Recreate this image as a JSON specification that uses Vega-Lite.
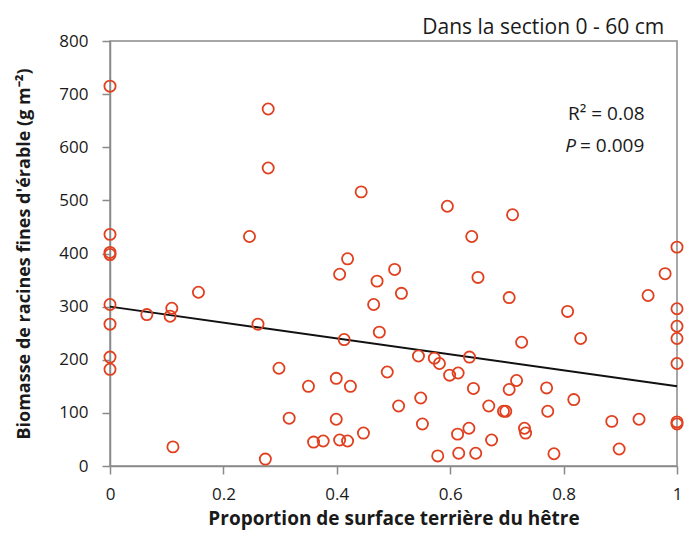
{
  "$schema": "https://vega.github.io/schema/vega-lite/v6.json",
  "width": 567,
  "height": 425,
  "autosize": "none",
  "padding": {"left": 110, "top": 41, "right": 7, "bottom": 70},
  "background": "white",
  "config": {
    "font": "Open Sans",
    "view": {"stroke": "#8a8a8a", "strokeWidth": 1.5},
    "axis": {"grid": false, "domainColor": "#8a8a8a", "domainWidth": 1.5, "tickColor": "#8a8a8a", "tickWidth": 1.5, "tickSize": 8, "labelFont": "Open Sans", "labelFontSize": 17, "labelColor": "#1a1a1a", "labelFlush": false, "titleFont": "Open Sans", "titleFontWeight": "bold", "titleColor": "#1a1a1a"}
  },
  "title": {"text": "Dans la section 0 - 60 cm", "anchor": "end", "fontSize": 21, "fontWeight": "normal", "font": "Open Sans", "color": "#1a1a1a", "offset": -6, "dx": -22},
  "datasets": {
    "points": [
      {"x": 0, "y": 715}, {"x": 0, "y": 436}, {"x": 0, "y": 402}, {"x": 0, "y": 398}, {"x": 0, "y": 304}, {"x": 0, "y": 267}, {"x": 0, "y": 205}, {"x": 0, "y": 182},
      {"x": 0.065, "y": 285}, {"x": 0.109, "y": 297}, {"x": 0.106, "y": 282}, {"x": 0.111, "y": 36}, {"x": 0.156, "y": 327},
      {"x": 0.246, "y": 432}, {"x": 0.261, "y": 267}, {"x": 0.274, "y": 13}, {"x": 0.279, "y": 672}, {"x": 0.279, "y": 561}, {"x": 0.298, "y": 184}, {"x": 0.316, "y": 90},
      {"x": 0.350, "y": 150}, {"x": 0.359, "y": 45}, {"x": 0.376, "y": 47}, {"x": 0.399, "y": 165}, {"x": 0.399, "y": 88}, {"x": 0.405, "y": 361}, {"x": 0.405, "y": 49},
      {"x": 0.413, "y": 238}, {"x": 0.419, "y": 390}, {"x": 0.419, "y": 47}, {"x": 0.424, "y": 150}, {"x": 0.443, "y": 516}, {"x": 0.447, "y": 62},
      {"x": 0.465, "y": 304}, {"x": 0.471, "y": 348}, {"x": 0.475, "y": 252}, {"x": 0.489, "y": 177}, {"x": 0.502, "y": 370}, {"x": 0.509, "y": 113}, {"x": 0.514, "y": 325},
      {"x": 0.544, "y": 207}, {"x": 0.548, "y": 128}, {"x": 0.551, "y": 79}, {"x": 0.572, "y": 203}, {"x": 0.578, "y": 19}, {"x": 0.581, "y": 193}, {"x": 0.595, "y": 489},
      {"x": 0.599, "y": 171}, {"x": 0.613, "y": 60}, {"x": 0.614, "y": 175}, {"x": 0.615, "y": 24}, {"x": 0.633, "y": 71}, {"x": 0.634, "y": 205}, {"x": 0.638, "y": 432},
      {"x": 0.641, "y": 146}, {"x": 0.645, "y": 24}, {"x": 0.649, "y": 355}, {"x": 0.668, "y": 113}, {"x": 0.673, "y": 49}, {"x": 0.694, "y": 103}, {"x": 0.698, "y": 103},
      {"x": 0.704, "y": 144}, {"x": 0.704, "y": 317}, {"x": 0.710, "y": 473}, {"x": 0.717, "y": 161}, {"x": 0.726, "y": 233}, {"x": 0.731, "y": 71}, {"x": 0.733, "y": 62},
      {"x": 0.770, "y": 147}, {"x": 0.772, "y": 103}, {"x": 0.783, "y": 23}, {"x": 0.807, "y": 291}, {"x": 0.818, "y": 125}, {"x": 0.830, "y": 240},
      {"x": 0.885, "y": 84}, {"x": 0.898, "y": 32}, {"x": 0.933, "y": 88}, {"x": 0.949, "y": 321}, {"x": 0.979, "y": 362},
      {"x": 1, "y": 412}, {"x": 1, "y": 296}, {"x": 1, "y": 263}, {"x": 1, "y": 240}, {"x": 1, "y": 193}, {"x": 1, "y": 83}, {"x": 1, "y": 79}
    ],
    "fit": [{"x": 0, "y": 300}, {"x": 1, "y": 150}]
  },
  "layer": [
    {
      "data": {"name": "fit"},
      "mark": {"type": "line", "color": "#111111", "strokeWidth": 2},
      "encoding": {
        "x": {"field": "x", "type": "quantitative", "scale": {"domain": [0, 1]}, "axis": {"values": [0, 0.2, 0.4, 0.6, 0.8, 1], "format": "~g", "title": "Proportion de surface terrière du hêtre", "titleFontSize": 19, "titlePadding": 7, "labelPadding": 12}},
        "y": {"field": "y", "type": "quantitative", "scale": {"domain": [0, 800]}, "axis": {"values": [0, 100, 200, 300, 400, 500, 600, 700, 800], "title": "Biomasse de racines fines d'érable (g m⁻²)", "titleFontSize": 18, "titlePadding": 25, "labelPadding": 14}}
      }
    },
    {
      "data": {"name": "points"},
      "mark": {"type": "point", "shape": "circle", "filled": false, "color": "#e0401f", "opacity": 1, "strokeWidth": 1.8, "size": 125, "clip": false},
      "encoding": {
        "x": {"field": "x", "type": "quantitative"},
        "y": {"field": "y", "type": "quantitative"}
      }
    },
    {
      "data": {"values": [{"t": "R² = 0.08"}]},
      "mark": {"type": "text", "align": "right", "baseline": "middle", "fontSize": 19, "color": "#1a1a1a", "font": "Open Sans"},
      "encoding": {"x": {"datum": 0.943}, "y": {"datum": 663}, "text": {"field": "t"}}
    },
    {
      "data": {"values": [{"t": "= 0.009"}]},
      "mark": {"type": "text", "align": "left", "baseline": "middle", "fontSize": 19, "color": "#1a1a1a", "font": "Open Sans"},
      "encoding": {"x": {"datum": 0.829}, "y": {"datum": 603}, "text": {"field": "t"}}
    },
    {
      "data": {"values": [{"t": "P"}]},
      "mark": {"type": "text", "align": "right", "baseline": "middle", "fontSize": 19, "fontStyle": "italic", "color": "#1a1a1a", "font": "Open Sans"},
      "encoding": {"x": {"datum": 0.822}, "y": {"datum": 603}, "text": {"field": "t"}}
    }
  ]
}
